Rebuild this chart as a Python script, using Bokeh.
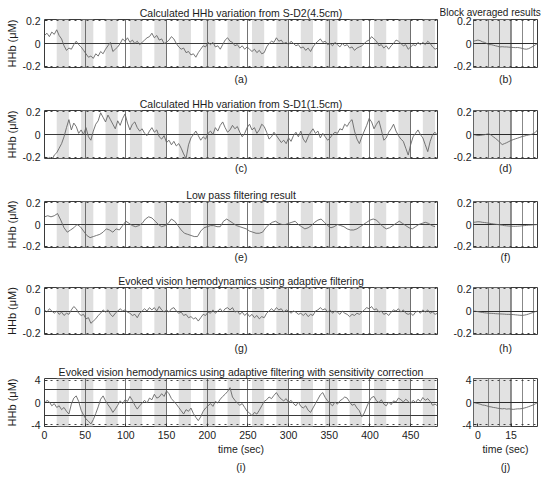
import numpy as np
from bokeh.plotting import figure
from bokeh.layouts import column, row
from bokeh.models import FixedTicker, Range1d, Grid, Span, Title
from bokeh.embed import file_html
from bokeh.resources import INLINE

# ---------------- data ----------------
SAMPLE_STEP = 3      # s between the values read for the raw traces
LOWPASS_STEP = 4     # s between the values read for the low-pass trace

STIM_ON = [15, 45, 75, 105, 135, 165, 195, 225, 255, 285, 315, 345, 375, 405, 435, 465]
STIM_OFF = [30, 60, 90, 120, 150, 180, 210, 240, 270, 300, 330, 360, 390, 420, 450, 480]

MAIN_XTICKS = [0, 50, 100, 150, 200, 250, 300, 350, 400, 450]
BLOCK_XTICKS = [0, 15]
BLOCK_XGRID = [5, 10, 20, 25]
BLOCK_STIM_END = 15

HHB_TICKS = [-0.2, 0, 0.2]
HHB_TICK_LABELS = ["-0.2", "0", "0.2"]
CORR_TICKS = [-4, 0, 4]
CORR_TICK_LABELS = ["-4", "0", "4"]
CORR_REF_LINES = [-2.4, 0, 2.4]

hhb_sd2 = [0.07, 0.09, 0.06, 0.10, 0.08, 0.12, 0.07, 0.04, -0.02, -0.06,
           -0.04, -0.05, -0.01, 0.02, -0.01, -0.03, -0.06, -0.09, -0.12, -0.11,
           -0.13, -0.09, -0.11, -0.07, -0.09, -0.05, -0.02, 0.01, -0.07, -0.05,
           -0.03, 0.00, 0.04, 0.02, 0.05, 0.01, 0.03, 0.00, 0.02, -0.01,
           0.01, 0.03, 0.05, 0.06, 0.09, 0.05, 0.07, 0.03, 0.04, 0.00,
           0.01, 0.03, 0.06, 0.04, 0.00, -0.03, -0.05, -0.04, -0.08, -0.07,
           -0.10, -0.09, -0.12, -0.08, -0.05, -0.02, -0.03, 0.01, -0.01, 0.01,
           -0.03, -0.02, -0.05, -0.01, 0.03, 0.05, 0.02, 0.01, -0.02, -0.01,
           -0.04, -0.02, -0.05, -0.03, -0.05, -0.07, -0.05, -0.08, -0.06, -0.09,
           -0.08, -0.03, 0.00, 0.02, 0.01, 0.05, 0.02, 0.03, 0.00, 0.01,
           -0.01, 0.02, 0.00, -0.02, -0.01, -0.04, -0.03, -0.06, -0.04, -0.07,
           -0.03, 0.00, 0.02, 0.04, 0.01, 0.02, -0.01, 0.00, -0.02, 0.01,
           -0.01, -0.03, 0.00, -0.02, -0.01, -0.04, -0.03, -0.06, -0.04, -0.03,
           -0.02, 0.00, 0.02, 0.03, 0.06, 0.04, 0.02, -0.02, -0.01, -0.04,
           -0.02, -0.05, -0.02, 0.00, 0.03, 0.02, 0.00, -0.02, -0.01, -0.05,
           -0.03, -0.01, -0.02, 0.01, -0.01, 0.01, -0.01, 0.02, 0.00, -0.03,
           -0.05, -0.04]

hhb_sd1 = [-0.19, -0.22, -0.20, -0.23, -0.18, -0.16, -0.12, -0.08, -0.02, 0.06,
           0.13, 0.04, 0.10, 0.07, 0.01, 0.04, 0.00, 0.06, -0.02, -0.05,
           0.03, 0.09, 0.12, 0.19, 0.15, 0.11, 0.17, 0.13, 0.09, 0.05,
           0.12, 0.08, 0.14, 0.18, 0.10, 0.04, 0.09, 0.11, 0.06, 0.03,
           0.05, 0.01, -0.01, 0.03, 0.06, 0.02, 0.04, -0.02, -0.04, -0.01,
           -0.07, -0.05, -0.09, -0.06, -0.10, -0.08, -0.12, -0.17, -0.21, -0.09,
           -0.03, 0.00, 0.03, -0.01, -0.05, -0.02, -0.04, 0.01, 0.03, 0.00,
           0.06, 0.03, 0.08, 0.11, 0.06, 0.02, 0.04, 0.08, 0.05, 0.07,
           0.02, -0.02, 0.01, 0.06, 0.09, 0.04, 0.06, 0.01, 0.04, 0.09,
           0.07, 0.02, -0.04, -0.02, 0.02, -0.01, -0.04, -0.07, -0.05, -0.08,
           -0.03, -0.06, -0.01, 0.02, -0.02, 0.03, -0.04, -0.07, -0.02, 0.02,
           0.05, 0.01, 0.03, -0.03, 0.01, -0.02, -0.05, -0.03, 0.00, 0.02,
           0.01, 0.05, 0.04, 0.09, 0.07, 0.11, 0.13, 0.03, -0.04, -0.08,
           -0.02, 0.03, 0.08, 0.14, 0.11, 0.05, 0.09, 0.12, 0.04, -0.05,
           -0.03, 0.02, 0.05, 0.09, 0.03, -0.01, -0.04, -0.06, -0.12, -0.18,
           -0.09, -0.02, 0.01, 0.04, 0.00, -0.03, -0.09, -0.15, -0.06, 0.00,
           0.02, -0.01]

hhb_lowpass = [0.07, 0.08, 0.07, 0.08, 0.10, 0.04, -0.03, -0.07, -0.05, -0.03,
               0.00, -0.02, -0.06, -0.10, -0.12, -0.11, -0.10, -0.09, -0.07, -0.04,
               -0.05, -0.07, -0.04, -0.05, -0.01, 0.03, 0.01, -0.01, -0.02, -0.01,
               0.01, 0.05, 0.07, 0.06, 0.03, 0.00, -0.02, -0.01, 0.01, 0.05,
               0.03, -0.01, -0.05, -0.08, -0.09, -0.10, -0.11, -0.11, -0.06, -0.03,
               -0.02, -0.01, -0.01, -0.02, -0.02, 0.03, 0.05, 0.03, 0.01, -0.01,
               -0.02, -0.03, -0.04, -0.06, -0.07, -0.08, -0.08, -0.07, -0.03, 0.00,
               0.02, 0.03, 0.01, 0.00, 0.00, 0.01, 0.02, 0.03, 0.00, -0.02,
               -0.04, -0.03, -0.01, 0.02, 0.04, 0.05, 0.02, -0.01, -0.03, -0.02,
               0.00, -0.01, -0.02, -0.04, -0.05, -0.05, -0.04, -0.02, 0.00, 0.02,
               0.04, 0.05, 0.04, 0.01, -0.02, -0.04, -0.03, -0.01, 0.01, 0.03,
               0.01, -0.01, -0.03, -0.04, -0.02, 0.00, 0.01, 0.02, 0.01, -0.01,
               -0.02]

hhb_adaptive = [0.01, -0.01, 0.02, 0.00, -0.02, 0.00, -0.03, -0.01, -0.04, -0.02,
                -0.03, 0.01, 0.04, 0.02, -0.02, -0.04, -0.03, -0.07, -0.06, -0.11,
                -0.09, -0.07, -0.04, -0.02, 0.01, -0.01, 0.01, -0.03, -0.05, -0.02,
                0.00, 0.02, 0.00, 0.01, -0.01, -0.02, -0.04, -0.03, -0.06, -0.02,
                0.00, 0.02, 0.00, 0.03, 0.01, 0.03, 0.00, 0.04, 0.01, -0.01,
                0.01, -0.01, 0.02, 0.03, 0.00, -0.02, -0.01, -0.04, -0.03, -0.06,
                -0.05, -0.07, -0.06, -0.09, -0.06, -0.03, -0.04, -0.01, -0.02, 0.01,
                -0.02, 0.00, 0.02, -0.01, 0.02, 0.03, 0.01, 0.03, -0.01, 0.00,
                -0.03, -0.01, -0.04, -0.02, -0.05, -0.03, -0.06, -0.04, -0.07, -0.05,
                -0.06, -0.02, 0.00, 0.02, 0.00, 0.03, 0.01, 0.02, -0.01, 0.01,
                0.00, -0.02, 0.00, -0.01, -0.03, -0.02, -0.04, -0.02, -0.05, -0.03,
                -0.04, 0.00, 0.01, 0.03, 0.01, 0.02, -0.01, 0.01, -0.02, 0.00,
                -0.01, -0.03, 0.00, -0.02, -0.03, -0.05, -0.03, -0.04, -0.02, -0.03,
                -0.01, 0.01, 0.03, 0.02, 0.04, 0.01, 0.02, -0.01, 0.00, -0.03,
                -0.02, -0.04, -0.01, 0.01, 0.00, 0.02, -0.01, 0.01, -0.02, -0.03,
                -0.02, -0.04, -0.01, 0.00, -0.02, 0.01, -0.01, 0.01, -0.02, -0.01,
                -0.03, -0.02]

hhb_corrected = [-0.2, 0.4, 0.1, -0.6, -0.2, -0.9, -0.6, -1.3, -0.9, -1.6,
                 -2.1, -0.3, 0.8, 1.2, 0.2, -1.4, -2.3, -3.0, -3.4, -3.9,
                 -3.1, -2.0, -0.8, 0.6, 1.2, 0.3, -0.4, -1.0, -1.8, -1.2,
                 -0.5, 0.3, -0.2, 0.5, 0.2, 1.1, 0.4, -0.5, -1.2, -0.6,
                 -0.1, 0.4, -0.1, 0.8, 0.5, 1.5, 0.8, 1.0, 1.6, 1.1,
                 2.1, 1.6, 0.7, 0.2, -0.3, -0.9, -1.5, -2.1, -1.3, -1.6,
                 -1.0, -2.0, -2.7, -3.3, -2.6, -1.6, -1.0, -0.6, -0.2, -0.7,
                 0.2, -0.1, 0.6, 1.1, 1.5, 2.0, 2.7, 1.0, 0.4, -0.1,
                 -0.5, -0.2, -0.9, -1.6, -1.9, -2.4, -1.8, -2.1, -1.4, -0.6,
                 0.2, 0.5, 1.0, 0.7, 1.3, 1.8, 1.1, 0.6, 0.3, 0.7,
                 0.0, 0.4, -0.2, -0.6, 0.1, -0.7, -1.0, -0.6, -1.4, -1.8,
                 -1.0, -0.2, 0.6, 1.4, 1.8, 0.9, 0.3, -0.2, -0.6, 0.1,
                 -0.3, 0.3, 0.6, 1.0, 0.8, 0.1, -0.5, -0.3, -1.0, -1.5,
                 -2.6, -1.9, -0.8, 0.2, 0.9, 1.1, 0.3, 0.0, 0.5, -0.3,
                 -0.6, 0.1, -0.4, 0.3, 0.1, 0.8, 0.5, 0.1, 0.6, 0.2,
                 -0.2, 0.4, 0.0, 0.6, 0.2, 0.9, 0.4, 0.7, 0.2, -0.5,
                 -0.3, -0.6]

BLOCK_T = [-2, -1, 0, 1, 2, 3, 4, 5, 6, 7, 8, 9, 10, 11, 12, 13, 14, 15,
           16, 17, 18, 19, 20, 21, 22, 23, 24, 25, 26, 27]

block_sd2 = [0.02, 0.025, 0.03, 0.025, 0.015, 0.01, 0.0, -0.01, -0.01, -0.015,
             -0.02, -0.025, -0.03, -0.028, -0.03, -0.03, -0.032, -0.033, -0.035, -0.036,
             -0.035, -0.038, -0.042, -0.048, -0.05, -0.045, -0.035, -0.025, -0.012, 0.0]
block_sd1 = [0.0, -0.005, -0.01, -0.008, -0.005, -0.002, 0.003, 0.006, -0.005, -0.02,
             -0.035, -0.05, -0.07, -0.088, -0.08, -0.072, -0.062, -0.052, -0.045, -0.038,
             -0.032, -0.025, -0.018, -0.014, -0.008, -0.004, 0.0, 0.006, 0.018, 0.04]
block_lowpass = [0.02, 0.022, 0.025, 0.024, 0.02, 0.018, 0.015, 0.012, 0.008, 0.005,
                 0.002, 0.0, -0.003, -0.006, -0.01, -0.012, -0.014, -0.015, -0.016, -0.016,
                 -0.015, -0.014, -0.012, -0.01, -0.008, -0.006, -0.005, -0.003, -0.002, 0.0]
block_adaptive = [0.0, -0.003, -0.006, -0.01, -0.013, -0.016, -0.018, -0.02, -0.021, -0.022,
                  -0.024, -0.025, -0.026, -0.027, -0.028, -0.03, -0.03, -0.031, -0.032, -0.034,
                  -0.036, -0.038, -0.039, -0.037, -0.033, -0.027, -0.02, -0.013, -0.006, 0.0]
block_corrected = [0.0, -0.1, -0.2, -0.3, -0.45, -0.5, -0.6, -0.75, -0.8, -0.9,
                   -0.95, -1.05, -1.1, -1.15, -1.1, -1.2, -1.15, -1.2, -1.25, -1.2,
                   -1.15, -1.15, -1.1, -1.0, -0.9, -0.75, -0.6, -0.45, -0.25, 0.0]

TITLES = ["Calculated HHb variation from S-D2(4.5cm)",
          "Calculated HHb variation from S-D1(1.5cm)",
          "Low pass filtering result",
          "Evoked vision hemodynamics using adaptive filtering",
          "Evoked vision hemodynamics using adaptive filtering with sensitivity correction"]
MAIN_TAGS = ["(a)", "(c)", "(e)", "(g)", "(i)"]
BLOCK_TAGS = ["(b)", "(d)", "(f)", "(h)", "(j)"]
BLOCK_TITLE = "Block averaged results"

# ---------------- layout / style ----------------
MAIN_XR = (0, 483)
BLOCK_XR = (-2, 27)
TITLE_SHIFT = [5, 8, -14, 17, -5]   # px, relative to the frame centre
TAG_SHIFT_MAIN = 6
TAG_SHIFT_BLOCK = -2
FRAME_H = [48, 48, 46, 47, 48]
BOTTOM = [24, 24, 21, 24, 53]
TAG_STANDOFF = [7, 3, 3, 11, 3]

FONT = "Liberation Sans"
FS = "10.5px"
TXT = "#1c1c1c"
STRIPE = "#dfdfdf"
TRACE = "#666666"


def style_axes(p):
    p.background_fill_color = "white"
    p.border_fill_color = "white"
    p.outline_line_color = "#3a3a3a"
    p.outline_line_width = 1
    for ax in (p.xaxis[0], p.yaxis[0]):
        ax.axis_line_color = None
        ax.major_tick_in = 3
        ax.major_tick_out = 0
        ax.major_tick_line_color = "#333333"
        ax.minor_tick_line_color = None
        ax.major_label_text_font = FONT
        ax.major_label_text_font_size = FS
        ax.major_label_text_color = TXT
        ax.axis_label_text_font = FONT
        ax.axis_label_text_font_size = FS
        ax.axis_label_text_font_style = "normal"
        ax.axis_label_text_color = TXT


def title(text, align="center", offset=0, standoff=1, size=FS):
    return Title(text=text, align=align, offset=offset, standoff=standoff,
                 text_font=FONT, text_font_size=size, text_font_style="normal",
                 text_color=TXT)


def main_panel(i, t, y, yr, yticks, ylabels, hlines, dotted, ylab_standoff):
    last = i == 4
    p = figure(frame_width=393, frame_height=FRAME_H[i],
               min_border_left=44, min_border_right=3,
               min_border_top=19, min_border_bottom=BOTTOM[i],
               x_range=Range1d(*MAIN_XR), y_range=Range1d(-yr, yr),
               output_backend="svg", toolbar_location=None, tools="")
    style_axes(p)
    p.quad(left=STIM_ON, right=STIM_OFF, bottom=-yr, top=yr,
           fill_color=STRIPE, line_color=None, level="image")
    p.xgrid.ticker = FixedTicker(ticks=MAIN_XTICKS)
    p.xgrid.grid_line_color = "#505050"
    p.xgrid.grid_line_width = 0.8
    p.ygrid.ticker = FixedTicker(ticks=hlines)
    p.ygrid.grid_line_color = "#3a3a3a"
    p.ygrid.grid_line_width = 1
    p.add_layout(Grid(dimension=1, ticker=FixedTicker(ticks=dotted),
                      grid_line_color="#444444", grid_line_dash="dotted",
                      grid_line_width=1))
    p.line(t, y, line_color=TRACE, line_width=0.9)
    p.yaxis.ticker = FixedTicker(ticks=yticks)
    p.yaxis.major_label_overrides = dict(zip(yticks, ylabels))
    p.yaxis.major_label_standoff = 4
    p.yaxis.axis_label = "HHb (μM)"
    p.yaxis.axis_label_text_font_size = "11px"
    p.yaxis.axis_label_standoff = ylab_standoff
    if last:
        p.xaxis.ticker = FixedTicker(ticks=MAIN_XTICKS)
        p.xaxis.major_label_standoff = 4
        p.xaxis.axis_label = "time (sec)"
        p.xaxis.axis_label_standoff = 1
    else:
        p.xaxis.visible = False
    p.add_layout(title(TITLES[i], offset=TITLE_SHIFT[i]), "above")
    p.add_layout(title(MAIN_TAGS[i], offset=TAG_SHIFT_MAIN, standoff=TAG_STANDOFF[i]), "below")
    return p


def block_panel(i, y, yr, yticks, ylabels, dotted):
    last = i == 4
    p = figure(frame_width=64, frame_height=FRAME_H[i],
               min_border_left=33, min_border_right=7,
               min_border_top=19, min_border_bottom=BOTTOM[i],
               x_range=Range1d(*BLOCK_XR), y_range=Range1d(-yr, yr),
               output_backend="svg", toolbar_location=None, tools="")
    style_axes(p)
    p.quad(left=[BLOCK_T[0]], right=[BLOCK_STIM_END], bottom=[-yr], top=[yr],
           fill_color="#e2e2e2", line_color=None, level="image")
    p.xgrid.ticker = FixedTicker(ticks=BLOCK_XGRID)
    p.xgrid.grid_line_color = "#6a6a6a"
    p.xgrid.grid_line_width = 0.8
    p.ygrid.ticker = FixedTicker(ticks=[0])
    p.ygrid.grid_line_color = "#2a2a2a"
    p.add_layout(Grid(dimension=1, ticker=FixedTicker(ticks=dotted),
                      grid_line_color="#444444", grid_line_dash="dotted",
                      grid_line_width=1))
    p.add_layout(Span(location=BLOCK_STIM_END, dimension="height",
                      line_color="#2e2e2e", line_width=1, level="underlay"))
    p.line(BLOCK_T, y, line_color=TRACE, line_width=0.9)
    p.yaxis.ticker = FixedTicker(ticks=yticks)
    p.yaxis.major_label_overrides = dict(zip(yticks, ylabels))
    p.yaxis.major_label_standoff = 2
    if last:
        p.xaxis.ticker = FixedTicker(ticks=BLOCK_XTICKS)
        p.xaxis.major_label_standoff = 4
        p.xaxis.axis_label = "time (sec)"
        p.xaxis.axis_label_standoff = 1
    else:
        p.xaxis.visible = False
    p.add_layout(title(BLOCK_TAGS[i], offset=TAG_SHIFT_BLOCK, standoff=TAG_STANDOFF[i]), "below")
    if i == 0:
        p.add_layout(title(BLOCK_TITLE, align="left", offset=-34, standoff=4, size="10px"), "above")
    return p


t_raw = np.arange(len(hhb_sd2)) * SAMPLE_STEP
t_lp = np.arange(len(hhb_lowpass)) * LOWPASS_STEP

main_series = [(t_raw, hhb_sd2), (t_raw, hhb_sd1), (t_lp, hhb_lowpass),
               (t_raw, hhb_adaptive), (t_raw, hhb_corrected)]
block_series = [block_sd2, block_sd1, block_lowpass, block_adaptive, block_corrected]

rows = []
for i in range(5):
    t, y = main_series[i]
    if i < 4:
        m = main_panel(i, t, y, 0.21, HHB_TICKS, HHB_TICK_LABELS, [0], [-0.2, 0.2], 1)
        b = block_panel(i, block_series[i], 0.21, HHB_TICKS, HHB_TICK_LABELS, [-0.2, 0.2])
    else:
        m = main_panel(i, t, y, 4.36, CORR_TICKS, CORR_TICK_LABELS, CORR_REF_LINES, [-4, 4], 10)
        b = block_panel(i, block_series[i], 4.36, CORR_TICKS, CORR_TICK_LABELS, [-4, 4])
    rows.append(row(m, b))

layout = column(*rows)
open("out.html", "w").write(file_html(layout, INLINE))
